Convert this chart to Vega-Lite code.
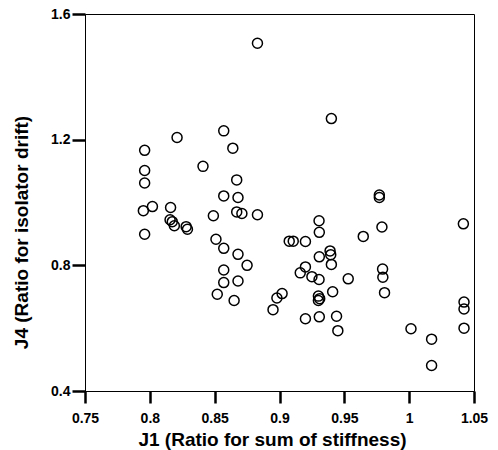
{
  "$schema": "https://vega.github.io/schema/vega-lite/v6.json",
  "width": 389,
  "height": 377,
  "autosize": "none",
  "padding": {"left": 85, "top": 14, "right": 24, "bottom": 59},
  "background": "white",
  "config": {"view": {"stroke": "black", "strokeWidth": 1}},
  "data": {
    "values": [
      {"J1": 0.883, "J4": 1.507}, {"J1": 0.940, "J4": 1.267}, {"J1": 0.857, "J4": 1.228},
      {"J1": 0.821, "J4": 1.207}, {"J1": 0.796, "J4": 1.166}, {"J1": 0.864, "J4": 1.173},
      {"J1": 0.796, "J4": 1.102}, {"J1": 0.841, "J4": 1.115}, {"J1": 0.796, "J4": 1.062},
      {"J1": 0.867, "J4": 1.072}, {"J1": 0.857, "J4": 1.021}, {"J1": 0.868, "J4": 1.016},
      {"J1": 0.977, "J4": 1.024}, {"J1": 0.977, "J4": 1.016}, {"J1": 0.802, "J4": 0.987},
      {"J1": 0.795, "J4": 0.974}, {"J1": 0.816, "J4": 0.984}, {"J1": 0.8156, "J4": 0.945},
      {"J1": 0.8173, "J4": 0.939}, {"J1": 0.8189, "J4": 0.926}, {"J1": 0.828, "J4": 0.923},
      {"J1": 0.829, "J4": 0.915}, {"J1": 0.849, "J4": 0.958}, {"J1": 0.867, "J4": 0.970},
      {"J1": 0.871, "J4": 0.965}, {"J1": 0.883, "J4": 0.961}, {"J1": 0.796, "J4": 0.899},
      {"J1": 0.9305, "J4": 0.942}, {"J1": 0.9307, "J4": 0.905}, {"J1": 0.979, "J4": 0.922},
      {"J1": 1.0418, "J4": 0.932}, {"J1": 0.9646, "J4": 0.892}, {"J1": 0.851, "J4": 0.883},
      {"J1": 0.9075, "J4": 0.877}, {"J1": 0.9106, "J4": 0.877}, {"J1": 0.920, "J4": 0.876},
      {"J1": 0.857, "J4": 0.854}, {"J1": 0.868, "J4": 0.835}, {"J1": 0.939, "J4": 0.846},
      {"J1": 0.9395, "J4": 0.834}, {"J1": 0.9307, "J4": 0.827}, {"J1": 0.940, "J4": 0.803},
      {"J1": 0.875, "J4": 0.800}, {"J1": 0.857, "J4": 0.785}, {"J1": 0.920, "J4": 0.795},
      {"J1": 0.916, "J4": 0.776}, {"J1": 0.9795, "J4": 0.788}, {"J1": 0.925, "J4": 0.764},
      {"J1": 0.9305, "J4": 0.755}, {"J1": 0.953, "J4": 0.757}, {"J1": 0.9797, "J4": 0.762},
      {"J1": 0.857, "J4": 0.745}, {"J1": 0.868, "J4": 0.750}, {"J1": 0.852, "J4": 0.708},
      {"J1": 0.865, "J4": 0.688}, {"J1": 0.898, "J4": 0.696}, {"J1": 0.902, "J4": 0.710},
      {"J1": 0.895, "J4": 0.659}, {"J1": 0.930, "J4": 0.702}, {"J1": 0.931, "J4": 0.694},
      {"J1": 0.930, "J4": 0.688}, {"J1": 0.941, "J4": 0.716}, {"J1": 0.981, "J4": 0.713},
      {"J1": 0.920, "J4": 0.630}, {"J1": 0.9307, "J4": 0.636}, {"J1": 0.944, "J4": 0.638},
      {"J1": 0.945, "J4": 0.592}, {"J1": 1.0014, "J4": 0.598}, {"J1": 1.0173, "J4": 0.565},
      {"J1": 1.0173, "J4": 0.481}, {"J1": 1.0423, "J4": 0.683}, {"J1": 1.0423, "J4": 0.661},
      {"J1": 1.0423, "J4": 0.600}
    ]
  },
  "mark": {"type": "point", "shape": "circle", "filled": false, "color": "black", "size": 100, "strokeWidth": 1.5, "opacity": 1},
  "encoding": {
    "x": {
      "field": "J1", "type": "quantitative",
      "scale": {"domain": [0.75, 1.05], "nice": false, "zero": false},
      "axis": {
        "orient": "bottom", "grid": false,
        "values": [0.75, 0.8, 0.85, 0.9, 0.95, 1.0, 1.05],
        "ticks": true, "tickSize": 12, "tickColor": "#000000", "tickWidth": 2.5,
        "domainColor": "black", "format": "~g",
        "labelFont": "Liberation Sans", "labelFontWeight": "bold", "labelFontSize": 14,
        "labelColor": "black", "labelFlush": false, "labelPadding": 8,
        "title": "J1 (Ratio for sum of stiffness)",
        "titleFont": "Liberation Sans", "titleFontWeight": "bold", "titleFontSize": 19,
        "titleColor": "black", "titleX": 187, "titleY": 54,
        "titleBaseline": "alphabetic", "titleAlign": "center"
      }
    },
    "y": {
      "field": "J4", "type": "quantitative",
      "scale": {"domain": [0.4, 1.6], "nice": false, "zero": false},
      "axis": {
        "orient": "left", "grid": false,
        "values": [0.4, 0.8, 1.2, 1.6],
        "ticks": true, "tickSize": 13, "tickColor": "#000000", "tickWidth": 2.5,
        "domainColor": "black", "format": ".1f",
        "labelFont": "Liberation Sans", "labelFontWeight": "bold", "labelFontSize": 14,
        "labelColor": "black", "labelFlush": false, "labelPadding": 2,
        "title": "J4 (Ratio for isolator drift)",
        "titleFont": "Liberation Sans", "titleFontWeight": "bold", "titleFontSize": 19,
        "titleColor": "black", "titleAngle": -90, "titleX": -58, "titleY": 218,
        "titleBaseline": "alphabetic", "titleAlign": "center"
      }
    }
  }
}
